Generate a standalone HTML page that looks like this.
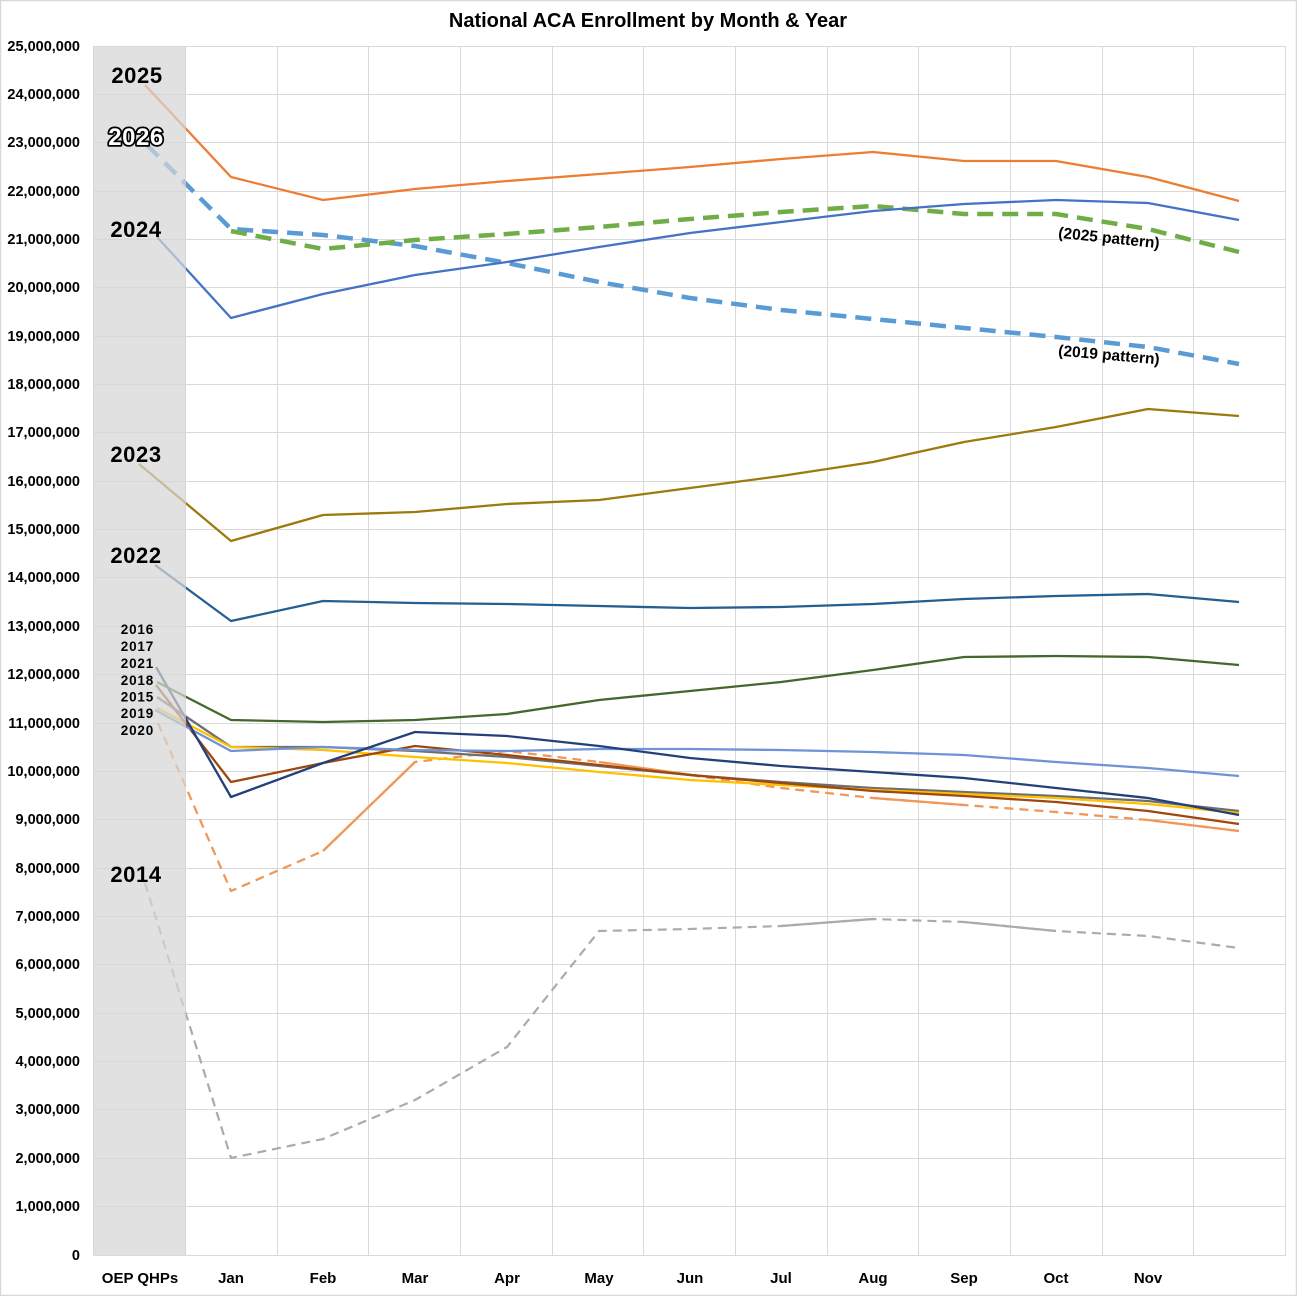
<!DOCTYPE html>
<html><head><meta charset="utf-8"><style>
html,body{margin:0;padding:0;background:#fff;}
svg{display:block;font-family:"Liberation Sans",Arial,sans-serif;}
</style></head><body>
<svg width="1297" height="1296" viewBox="0 0 1297 1296" xmlns="http://www.w3.org/2000/svg">
<rect x="0" y="0" width="1297" height="1296" fill="#fff"/>
<rect x="0.5" y="0.5" width="1296" height="1295" fill="none" stroke="#D9D9D9" stroke-width="1.5"/>
<text x="648" y="27" text-anchor="middle" font-size="20" font-weight="bold" fill="#000">National ACA Enrollment by Month &amp; Year</text>

<g stroke="#D9D9D9" stroke-width="1" fill="none">
<path d="M93 46.5H1286M93 94.5H1286M93 142.5H1286M93 191.5H1286M93 239.5H1286M93 287.5H1286M93 336.5H1286M93 384.5H1286M93 432.5H1286M93 481.5H1286M93 529.5H1286M93 577.5H1286M93 626.5H1286M93 674.5H1286M93 723.5H1286M93 771.5H1286M93 819.5H1286M93 868.5H1286M93 916.5H1286M93 964.5H1286M93 1013.5H1286M93 1061.5H1286M93 1109.5H1286M93 1158.5H1286M93 1206.5H1286M93 1255.5H1286"/>
<path d="M93.5 46V1255M185.5 46V1255M277.5 46V1255M368.5 46V1255M460.5 46V1255M552.5 46V1255M643.5 46V1255M735.5 46V1255M827.5 46V1255M918.5 46V1255M1010.5 46V1255M1102.5 46V1255M1193.5 46V1255M1285.5 46V1255"/>
</g>

<g fill="none" stroke-linejoin="round" stroke-linecap="butt">
<polyline stroke="#ABABAB" stroke-width="2.2" stroke-dasharray="9,6" points="145,883 231,1158 323,1139 415,1100 507,1047 599,931 690,929 781,926 873,919 964,922 1056,931 1148,936 1239,948"/>
<polyline stroke="#ABABAB" stroke-width="2.2" points="781,926 873,919"/>
<polyline stroke="#ABABAB" stroke-width="2.2" points="964,922 1056,931"/>
<polyline stroke="#F1975A" stroke-width="2.3" stroke-dasharray="9,6" points="158,723 231,891 323,851 415,762 507,751 599,762 690,775 781,788 873,798 964,805 1056,812 1148,820 1239,831"/>
<polyline stroke="#F1975A" stroke-width="2.3" points="323,851 415,762"/>
<polyline stroke="#F1975A" stroke-width="2.3" points="599,762 700,776"/>
<polyline stroke="#F1975A" stroke-width="2.3" points="873,798 964,805"/>
<polyline stroke="#F1975A" stroke-width="2.3" points="1148,820 1239,831"/>
<polyline stroke="#6E6E6E" stroke-width="2.3" points="157,697 231,747 323,747 415,751 507,757 599,766 690,775 781,782 873,788 964,792 1056,796 1148,801 1239,811"/>
<polyline stroke="#FFC000" stroke-width="2.3" points="157,708 231,747 323,750 415,757 507,763 599,772 690,780 781,785 873,790 964,794 1056,798 1148,804 1239,813"/>
<polyline stroke="#9E480E" stroke-width="2.3" points="156,685 231,782 323,763 415,746 507,755 599,765 690,775 781,783 873,791 964,796 1056,802 1148,811 1239,824"/>
<polyline stroke="#6E93D6" stroke-width="2.3" points="155,710 231,751 323,747 415,750 507,751 599,749 690,749 781,750 873,752 964,755 1056,762 1148,768 1239,776"/>
<polyline stroke="#24407A" stroke-width="2.3" points="156,667 231,797 323,763 415,732 507,736 599,746 690,758 781,766 873,772 964,778 1056,788 1148,798 1239,815"/>
<polyline stroke="#43682B" stroke-width="2.3" points="157,682 231,720 323,722 415,720 507,714 599,700 690,691 781,682 873,670 964,657 1056,656 1148,657 1239,665"/>
<polyline stroke="#255E91" stroke-width="2.3" points="155,565 231,621 323,601 415,603 507,604 599,606 690,608 781,607 873,604 964,599 1056,596 1148,594 1239,602"/>
<polyline stroke="#9C7A0E" stroke-width="2.3" points="139,464 231,541 323,515 415,512 507,504 599,500 690,488 781,476 873,462 964,442 1056,427 1148,409 1239,416"/>
<polyline stroke="#5B9BD5" stroke-width="4.5" stroke-dasharray="16,9" points="147,145 231,229 323,235 415,246 507,263 599,282 690,298 781,310 873,319 964,328 1056,337 1148,347 1239,364"/>
<polyline stroke="#70AD47" stroke-width="4.5" stroke-dasharray="16,9" points="231,231 323,249 415,240 507,234 599,227 690,219 781,212 873,206 964,214 1056,214 1148,229 1239,252"/>
<polyline stroke="#4472C4" stroke-width="2.3" points="157,237 231,318 323,294 415,275 507,262 599,247 690,233 781,222 873,211 964,204 1056,200 1148,203 1239,220"/>
<polyline stroke="#ED7D31" stroke-width="2.3" points="145,85 231,177 323,200 415,189 507,181 599,174 690,167 781,159 873,152 964,161 1056,161 1148,177 1239,201"/>
</g>

<rect x="93" y="46" width="93" height="1209" fill="#D6D6D6" opacity="0.72"/>

<g font-weight="bold" fill="#000" text-anchor="middle">
<text x="137" y="83" font-size="22" letter-spacing="0.6">2025</text>
<text x="136" y="145" font-size="24" letter-spacing="0.5" fill="#fff" stroke="#000" stroke-width="3.5" paint-order="stroke" stroke-linejoin="round">2026</text>
<text x="136" y="237" font-size="22" letter-spacing="0.6">2024</text>
<text x="136" y="462" font-size="22" letter-spacing="0.6">2023</text>
<text x="136" y="563" font-size="22" letter-spacing="0.6">2022</text>
<text x="136" y="882" font-size="22" letter-spacing="0.6">2014</text>
</g>
<g font-weight="bold" fill="#000" text-anchor="end" font-size="13.5" letter-spacing="0.8">
<text x="154" y="634">2016</text>
<text x="154" y="651">2017</text>
<text x="154" y="668">2021</text>
<text x="154" y="685">2018</text>
<text x="154" y="701.5">2015</text>
<text x="154" y="718">2019</text>
<text x="154" y="735">2020</text>
</g>

<text x="1109" y="243" font-size="15.5" font-weight="bold" text-anchor="middle" fill="#000" transform="rotate(6 1109 238)">(2025 pattern)</text>
<text x="1109" y="360" font-size="15.5" font-weight="bold" text-anchor="middle" fill="#000" transform="rotate(5 1109 355)">(2019 pattern)</text>

<g font-weight="bold" fill="#000" text-anchor="end" font-size="14.5">
<text x="80" y="51">25,000,000</text>
<text x="80" y="99">24,000,000</text>
<text x="80" y="147">23,000,000</text>
<text x="80" y="196">22,000,000</text>
<text x="80" y="244">21,000,000</text>
<text x="80" y="292">20,000,000</text>
<text x="80" y="341">19,000,000</text>
<text x="80" y="389">18,000,000</text>
<text x="80" y="437">17,000,000</text>
<text x="80" y="486">16,000,000</text>
<text x="80" y="534">15,000,000</text>
<text x="80" y="582">14,000,000</text>
<text x="80" y="631">13,000,000</text>
<text x="80" y="679">12,000,000</text>
<text x="80" y="728">11,000,000</text>
<text x="80" y="776">10,000,000</text>
<text x="80" y="824">9,000,000</text>
<text x="80" y="873">8,000,000</text>
<text x="80" y="921">7,000,000</text>
<text x="80" y="969">6,000,000</text>
<text x="80" y="1018">5,000,000</text>
<text x="80" y="1066">4,000,000</text>
<text x="80" y="1114">3,000,000</text>
<text x="80" y="1163">2,000,000</text>
<text x="80" y="1211">1,000,000</text>
<text x="80" y="1260">0</text>
</g>

<g font-weight="bold" fill="#000" text-anchor="middle" font-size="15">
<text x="140" y="1283">OEP QHPs</text>
<text x="231" y="1283">Jan</text>
<text x="323" y="1283">Feb</text>
<text x="415" y="1283">Mar</text>
<text x="507" y="1283">Apr</text>
<text x="599" y="1283">May</text>
<text x="690" y="1283">Jun</text>
<text x="781" y="1283">Jul</text>
<text x="873" y="1283">Aug</text>
<text x="964" y="1283">Sep</text>
<text x="1056" y="1283">Oct</text>
<text x="1148" y="1283">Nov</text>
</g>
</svg>
</body></html>
